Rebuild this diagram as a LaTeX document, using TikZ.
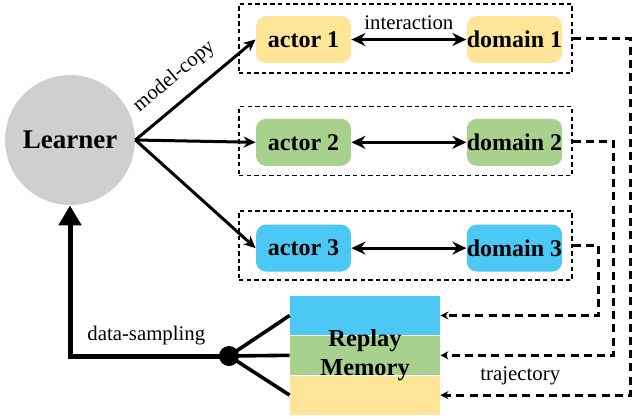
\documentclass[tikz,border=0pt]{standalone}
\usepackage{fontspec}
\setmainfont{Liberation Serif}
\usetikzlibrary{arrows.meta,positioning}
\definecolor{learnergray}{HTML}{D0CECE}
\definecolor{actyellow}{HTML}{FFE597}
\definecolor{actgreen}{HTML}{A9D18E}
\definecolor{actblue}{HTML}{4CC8F4}

\begin{document}
\begin{tikzpicture}[x=0.5pt,y=-0.5pt,
	agent/.style={rounded corners=5pt, minimum width=47.5pt, minimum height=23.5pt, inner sep=0pt, font=\fontsize{12}{14}\selectfont\bfseries},
	env/.style={draw, dash pattern=on 2.2pt off 1.6pt, line width=0.6pt, minimum width=166.5pt, minimum height=34.5pt},
	band/.style={minimum width=75pt, minimum height=19.5pt, inner sep=0pt},
	copy/.style={-{Stealth[length=6pt,width=5.5pt]}, line width=1.5pt},
	interact/.style={{Stealth[length=7pt,width=6.5pt]}-{Stealth[length=7pt,width=6.5pt]}, line width=1.5pt},
	traj/.style={-{Stealth[length=4pt,width=4pt]}, line width=1.5pt, dash pattern=on 4pt off 2.6pt},
	branch/.style={line width=1.8pt},
	sample/.style={-{Triangle[length=10pt,width=11pt]}, line width=2.5pt},
	lbl/.style={font=\fontsize{10.4}{12}\selectfont}]
	\useasboundingbox (0,0) rectangle (632,418);

	\node[circle, fill=learnergray, minimum size=65pt, inner sep=0pt, font=\fontsize{13.5}{15}\selectfont\bfseries] (learner) at (70,140) {Learner};

	\node[env] (e_1) at (405.5,38.5) {};
	\node[env] (e_2) at (405.5,141) {};
	\node[env] (e_3) at (405.5,245.5) {};

	\node[agent, fill=actyellow] (a_1) at (303.5,39.5) {actor 1};
	\node[agent, fill=actgreen] (a_2) [below=27.5pt of a_1] {actor 2};
	\node[agent, fill=actblue] (a_3) [below=29pt of a_2] {actor 3};
	\node[agent, fill=actyellow] (d_1) [right=57.5pt of a_1] {domain 1};
	\node[agent, fill=actgreen] (d_2) [right=57.5pt of a_2] {domain 2};
	\node[agent, fill=actblue] (d_3) [right=57.5pt of a_3] {domain 3};

	\node[band, fill=actblue] (m_1) at (365,315.5) {};
	\node[band, fill=actgreen] (m_2) [below=0pt of m_1] {};
	\node[band, fill=actyellow] (m_3) [below=0pt of m_2] {};
	\node[align=center, font=\fontsize{12.2}{14.5}\selectfont\bfseries] (rm) at (m_2) {Replay\\Memory};

	\node[circle, fill, minimum size=10pt, inner sep=0pt] (hub) at (229,356) {};

	\draw[copy] (learner.east) -- node[lbl, above=3pt, sloped, pos=0.45] {model-copy} (a_1.west);
	\draw[copy] (learner.east) -- (a_2.west);
	\draw[copy] (learner.east) -- (a_3.west);

	\draw[interact] (a_1) -- node[lbl, above=1pt] {interaction} (d_1);
	\draw[interact] (a_2) -- (d_2);
	\draw[interact] (a_3) -- (d_3);

	\draw[traj] (e_1.east) -- ++(58,0) |- node[lbl, above=1pt, pos=0.79] {trajectory} (m_3.east);
	\draw[traj] (e_2.east) -- ++(41,0) |- (m_2.east);
	\draw[traj] (e_3.east) -- ++(26,0) |- (m_1.east);

	\draw[branch] (hub.center) -- (m_1.west);
	\draw[branch] (hub.center) -- (m_2.west);
	\draw[branch] (hub.center) -- (m_3.west);
	\draw[sample] (hub.center) -| node[lbl, above=1pt, pos=0.26] {data-sampling} (learner.south);
\end{tikzpicture}
\end{document}
